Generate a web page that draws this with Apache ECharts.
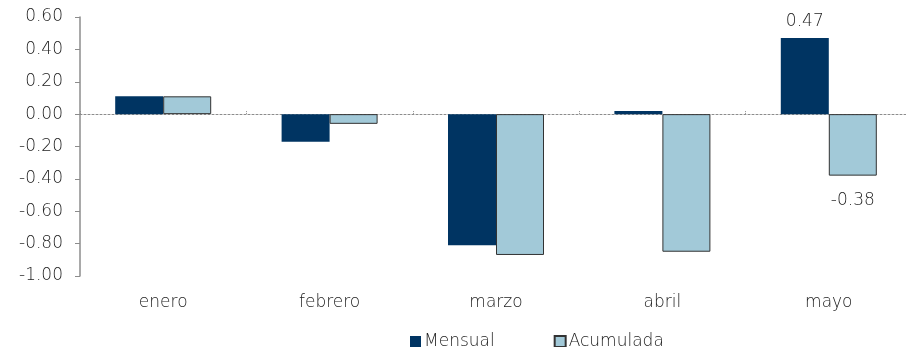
<!DOCTYPE html>
<html>
<head>
<meta charset="utf-8">
<script src="https://cdn.jsdelivr.net/npm/echarts@6/dist/echarts.min.js"></script>
<style>
  html, body { margin: 0; padding: 0; background: #fff; overflow: hidden; }
  /* the plot area runs a few pixels past the right edge of the window */
  #chart { width: 914px; height: 347px; }
</style>
</head>
<body>
<div id="chart"></div>
<script>
const months = ['enero', 'febrero', 'marzo', 'abril', 'mayo'];
const mensual = [0.11, -0.17, -0.81, 0.02, 0.47];
const acumulada = [0.11, -0.06, -0.87, -0.85, -0.38];
// only the latest month carries value labels
const labelledIndex = 4;

const FONT = '"DejaVu Sans", Verdana, sans-serif';
const WEIGHT = 200;
const TEXT = '#222222';
const SIZE = 17;

const chart = echarts.init(document.getElementById('chart'));

function withLabel(values, position) {
  return values.map((v, i) => i === labelledIndex
    ? { value: v, label: { show: true, position: position, formatter: p => p.value.toFixed(2) } }
    : v);
}

const txt = { fontSize: SIZE, color: TEXT, fontFamily: FONT, fontWeight: WEIGHT };

chart.setOption({
  animation: false,
  textStyle: { fontFamily: FONT },
  grid: { left: 80, top: 17, width: 832, height: 259 },
  legend: {
    top: 328,
    left: 405,
    itemWidth: 11,
    itemHeight: 11,
    itemGap: 59,
    icon: 'rect',
    textStyle: Object.assign({}, txt, { padding: [0, 0, 0, -2] }),
    data: ['Mensual', 'Acumulada']
  },
  xAxis: [
    {
      type: 'category',
      data: months,
      axisLine: { onZero: true, lineStyle: { color: '#8c8c8c', type: [2, 2], width: 1 } },
      axisTick: { show: true, inside: true, length: 4, lineStyle: { color: '#8c8c8c', type: [1, 1] } },
      axisLabel: { show: false }
    },
    {
      type: 'category',
      data: months,
      position: 'bottom',
      axisLine: { show: false, onZero: false },
      axisTick: { show: false },
      axisLabel: Object.assign({ show: true, margin: 18 }, txt)
    }
  ],
  yAxis: {
    type: 'value',
    min: -1.0,
    max: 0.6,
    interval: 0.2,
    axisLine: { show: true, lineStyle: { color: '#8c8c8c', width: 1.5 } },
    axisTick: { show: true, length: 5, lineStyle: { color: '#8c8c8c' } },
    splitLine: { show: false },
    axisLabel: Object.assign({ margin: 17, formatter: v => v.toFixed(2) }, txt)
  },
  series: [
    {
      name: 'Mensual',
      type: 'bar',
      xAxisIndex: 0,
      barWidth: 48,
      barGap: '0%',
      itemStyle: { color: '#003462' },
      label: Object.assign({ distance: 8 }, txt),
      data: withLabel(mensual, 'top')
    },
    {
      name: 'Acumulada',
      type: 'bar',
      xAxisIndex: 0,
      barWidth: 48,
      barGap: '0%',
      itemStyle: { color: '#a2c9d8', borderColor: '#333333', borderWidth: 1 },
      label: Object.assign({ distance: 16 }, txt),
      data: withLabel(acumulada, 'bottom')
    }
  ]
});
</script>
</body>
</html>
